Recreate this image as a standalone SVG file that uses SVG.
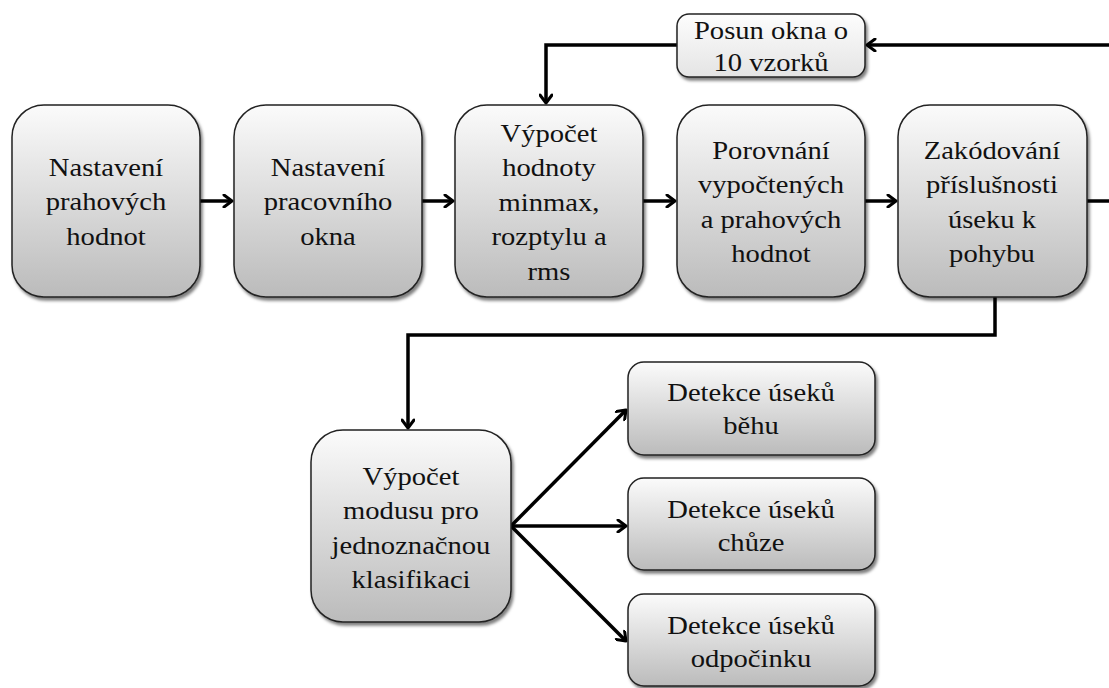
<svg xmlns="http://www.w3.org/2000/svg" width="1109" height="688" viewBox="0 0 1109 688">
<defs>
<linearGradient id="g" x1="0" y1="0" x2="0" y2="1">
<stop offset="0" stop-color="#fbfbfb"/>
<stop offset="1" stop-color="#bbbbbb"/>
</linearGradient>
<linearGradient id="g2" x1="0" y1="0" x2="0" y2="1">
<stop offset="0" stop-color="#fdfdfd"/>
<stop offset="1" stop-color="#e4e4e4"/>
</linearGradient>
<filter id="sh" x="-10%" y="-10%" width="125%" height="125%">
<feDropShadow dx="2" dy="3" stdDeviation="1.5" flood-color="#000" flood-opacity="0.5"/>
</filter>
<marker id="ah" markerWidth="14" markerHeight="14" refX="11" refY="7" orient="auto" markerUnits="userSpaceOnUse">
<path d="M3,1 L11,7 L3,13" fill="none" stroke="#000" stroke-width="3" stroke-linecap="round" stroke-linejoin="round"/>
</marker>
</defs>
<style>
.box{fill:url(#g);stroke:#222;stroke-width:1.5;filter:url(#sh)}
.box2{fill:url(#g2);stroke:#222;stroke-width:1.5;filter:url(#sh)}
.t text{font-family:"Liberation Serif",serif;font-size:26px;fill:#111;text-anchor:middle}
.c{fill:none;stroke:#000;stroke-width:3.5}
</style>
<g id="connectors">
<path class="c" d="M200,201 L232,201" marker-end="url(#ah)"/>
<path class="c" d="M422,201 L453,201" marker-end="url(#ah)"/>
<path class="c" d="M643,201 L675,201" marker-end="url(#ah)"/>
<path class="c" d="M865,201 L896,201" marker-end="url(#ah)"/>
<path class="c" d="M1087,201 L1109,201"/>
<path class="c" d="M1109,45 L867,45" marker-end="url(#ah)"/>
<path class="c" d="M677,45 L546,45 L546,103" marker-end="url(#ah)"/>
<path class="c" d="M995,297 L995,335 L408,335 L408,428" marker-end="url(#ah)"/>
<path class="c" d="M511,526 L626,410" marker-end="url(#ah)"/>
<path class="c" d="M511,526 L626,526" marker-end="url(#ah)"/>
<path class="c" d="M511,526 L626,641" marker-end="url(#ah)"/>
</g>
<g id="n1"><rect class="box" x="12" y="105" width="188" height="192" rx="32"/>
<g class="t" transform="translate(106,0) scale(1.1,1)"><text x="0" y="176">Nastavení</text><text x="0" y="210.5">prahových</text><text x="0" y="245">hodnot</text></g></g>
<g id="n2"><rect class="box" x="234" y="105" width="188" height="192" rx="32"/>
<g class="t" transform="translate(328,0) scale(1.1,1)"><text x="0" y="176">Nastavení</text><text x="0" y="210.5">pracovního</text><text x="0" y="245">okna</text></g></g>
<g id="n3"><rect class="box" x="455" y="105" width="188" height="192" rx="32"/>
<g class="t" transform="translate(549,0) scale(1.1,1)"><text x="0" y="142">Výpočet</text><text x="0" y="176.5">hodnoty</text><text x="0" y="211">minmax,</text><text x="0" y="245.5">rozptylu a</text><text x="0" y="280">rms</text></g></g>
<g id="n4"><rect class="box" x="677" y="105" width="188" height="192" rx="32"/>
<g class="t" transform="translate(771,0) scale(1.1,1)"><text x="0" y="159">Porovnání</text><text x="0" y="193.5">vypočtených</text><text x="0" y="228">a prahových</text><text x="0" y="262.5">hodnot</text></g></g>
<g id="n5"><rect class="box" x="898" y="105" width="189" height="192" rx="32"/>
<g class="t" transform="translate(992,0) scale(1.1,1)"><text x="0" y="159">Zakódování</text><text x="0" y="193.5">příslušnosti</text><text x="0" y="228">úseku k</text><text x="0" y="262.5">pohybu</text></g></g>
<g id="n6"><rect class="box2" x="677" y="14" width="188" height="63" rx="12"/>
<g class="t" transform="translate(771,0) scale(1.1,1)"><text x="0" y="39">Posun okna o</text><text x="0" y="71">10 vzorků</text></g></g>
<g id="n7"><rect class="box" x="311" y="430" width="200" height="192" rx="32"/>
<g class="t" transform="translate(411,0) scale(1.1,1)"><text x="0" y="485">Výpočet</text><text x="0" y="519.5">modusu pro</text><text x="0" y="554">jednoznačnou</text><text x="0" y="588.5">klasifikaci</text></g></g>
<g id="n8"><rect class="box" x="628" y="362" width="247" height="93" rx="16"/>
<g class="t" transform="translate(751,0) scale(1.1,1)"><text x="0" y="401">Detekce úseků</text><text x="0" y="434">běhu</text></g></g>
<g id="n9"><rect class="box" x="628" y="478" width="247" height="92" rx="16"/>
<g class="t" transform="translate(751,0) scale(1.1,1)"><text x="0" y="518">Detekce úseků</text><text x="0" y="551">chůze</text></g></g>
<g id="n10"><rect class="box" x="628" y="594" width="247" height="92" rx="16"/>
<g class="t" transform="translate(751,0) scale(1.1,1)"><text x="0" y="634">Detekce úseků</text><text x="0" y="667">odpočinku</text></g></g>
</svg>
